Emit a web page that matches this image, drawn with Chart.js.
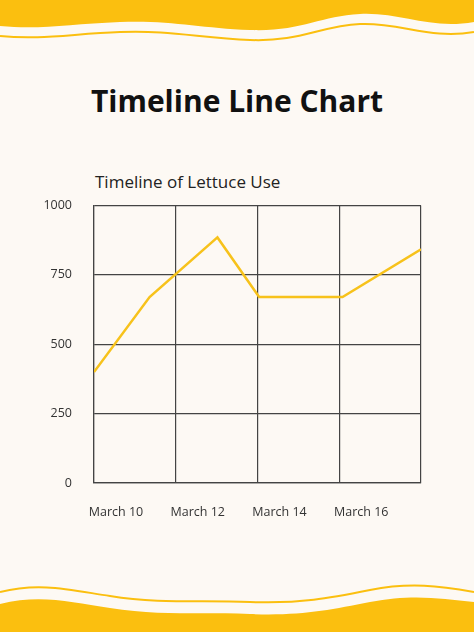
<!DOCTYPE html>
<html>
<head>
<meta charset="utf-8">
<script src="https://cdn.jsdelivr.net/npm/chart.js@4"></script>
<style>
  body { margin: 0; background: #fdf9f4; font-family: 'Open Sans', sans-serif; }
  #page { position: relative; width: 474px; height: 632px; overflow: hidden; }
  h1 { position: absolute; top: 80px; left: 0; width: 474px; margin: 0; text-align: center;
       font: bold 30px 'Open Sans', sans-serif; color: #111; }
  h2 { position: absolute; top: 170px; left: 95px; margin: 0; font: 17px 'Open Sans', sans-serif; color: #222; }
  #wrap { position: absolute; left: 0; top: 176px; width: 474px; height: 354px; }
  svg { position: absolute; left: 0; }
</style>
</head>
<body>
<div id="page">
  <svg width="474" height="50" style="top:0">
    <path d="M0 0 H474 V22 C430 30 400 12 360 14 C320 16 300 32 250 30 C200 28 170 20 120 22 C70 24 40 30 0 26 Z" fill="#fbbf0f"/>
    <path d="M0 36 C40 40 70 34 120 32 C170 30 200 38 250 40 C300 42 320 26 360 24 C400 22 430 40 474 32" stroke="#fbbf0f" stroke-width="2" fill="none"/>
  </svg>
  <svg width="474" height="60" style="top:572px">
    <path d="M0 20 C40 10 70 18 110 24 C160 32 200 28 250 30 C300 32 330 26 370 18 C410 10 440 14 474 20" stroke="#fbbf0f" stroke-width="2" fill="none"/>
    <path d="M0 60 V32 C40 22 70 30 110 36 C160 44 200 40 250 42 C300 44 330 38 370 30 C410 22 440 26 474 30 V60 Z" fill="#fbbf0f"/>
  </svg>
  <h1>Timeline Line Chart</h1>
  <h2>Timeline of Lettuce Use</h2>
  <div id="wrap"><canvas id="myChart"></canvas></div>
</div>
<script>
let tickLabels = ['March 10', 'March 12', 'March 14', 'March 16', ''];
let dayPositions = [0, 0.68, 1.51, 2.02, 3.04, 4];
let lettuceUse = [400, 670, 885, 670, 670, 842];

let ctx = document.getElementById('myChart').getContext('2d');
let chart1 = new Chart(ctx, {
    type: 'line',
    data: {
        datasets: [{
            label: 'Lettuce Use',
            data: dayPositions.map((d, i) => ({ x: d, y: lettuceUse[i] })),
            borderColor: '#f7c21b',
            borderWidth: 2.5,
            pointRadius: 0,
            tension: 0
        }]
    },
    options: {
        responsive: true,
        maintainAspectRatio: false,
        animation: false,
        layout: { padding: { top: 13, right: 53, left: 0, bottom: 0 } },
        plugins: { legend: { display: false }, tooltip: { enabled: false } },
        scales: {
            x: {
                type: 'linear', min: 0, max: 4,
                afterFit: s => { s.height = 47; },
                grid: { color: '#444', lineWidth: 1.2, drawTicks: false },
                border: { color: '#444', width: 1.2 },
                ticks: {
                    stepSize: 1, padding: 22, labelOffset: 22,
                    color: '#333', font: { family: "'Open Sans', sans-serif", size: 12.5 },
                    callback: v => tickLabels[v]
                }
            },
            y: {
                min: 0, max: 1000,
                afterFit: s => { s.width = 94; },
                grid: { color: '#444', lineWidth: 1.2, drawTicks: false },
                border: { color: '#444', width: 1.2 },
                ticks: {
                    stepSize: 250, padding: 22,
                    color: '#333', font: { family: "'Open Sans', sans-serif", size: 12.5 },
                    callback: v => String(v)
                }
            }
        }
    }
});
</script>
</body>
</html>
